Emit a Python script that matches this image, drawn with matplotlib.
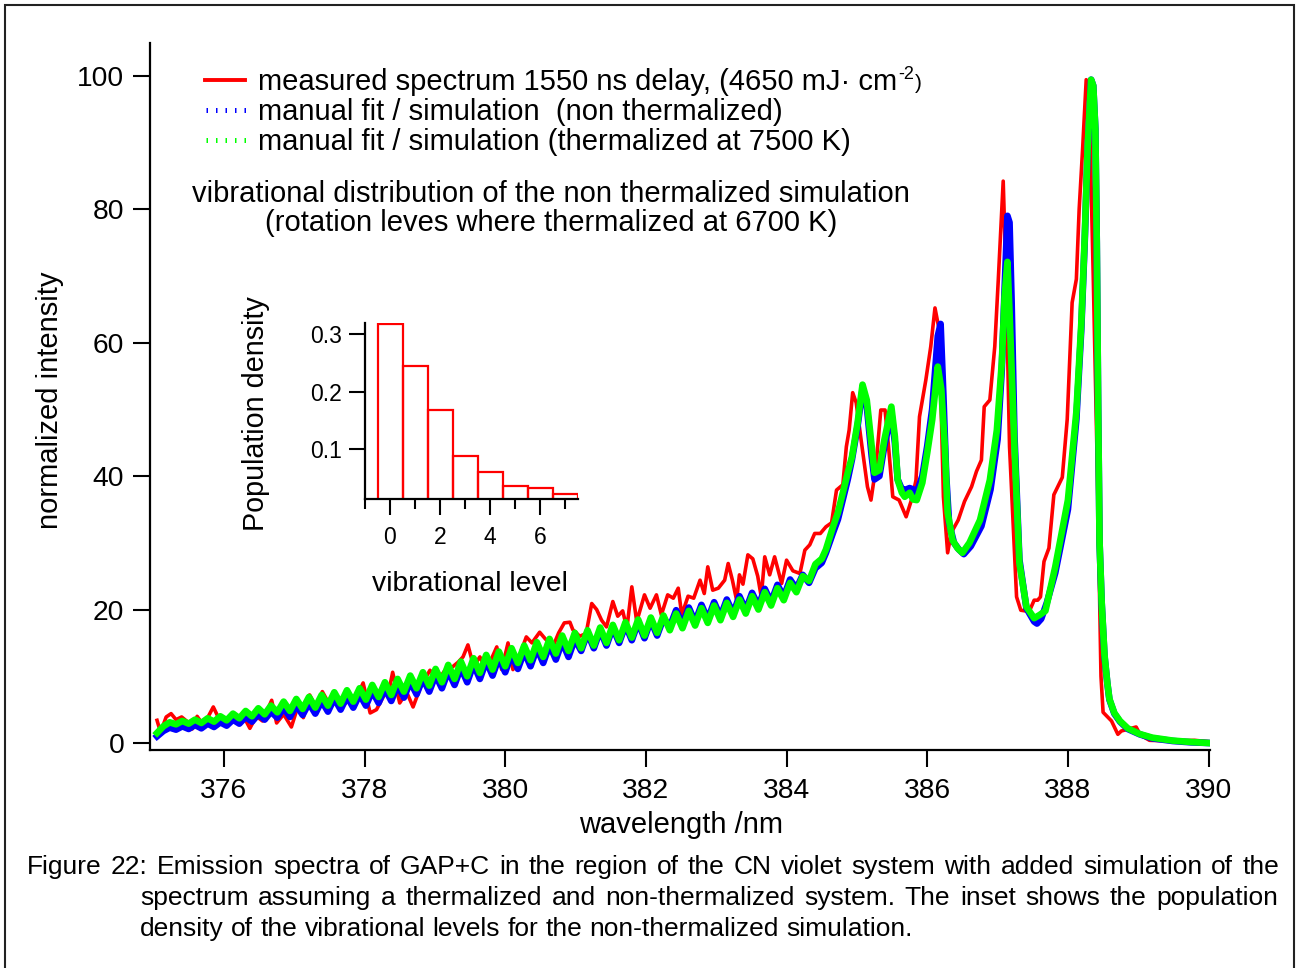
import numpy as np
import matplotlib
matplotlib.use('Agg')
import matplotlib.pyplot as plt
from matplotlib.lines import Line2D
from matplotlib.patches import Rectangle

plt.rcParams['font.family'] = ['Liberation Sans', 'DejaVu Sans']

# ---------------- data ----------------
# simulated spectra, low-wavelength part sampled on a regular grid
low_x = np.linspace(375.05, 384.50, 106)

green_low = [1.5, 2.5, 3.1, 2.8, 3.3, 2.9, 3.5, 3.0, 3.7, 3.2,
             4.0, 3.4, 4.4, 3.7, 4.8, 4.0, 5.2, 4.3, 5.6, 4.6,
             6.2, 4.8, 6.6, 5.1, 6.9, 5.3, 7.2, 5.6, 7.6, 5.9,
             7.9, 6.2, 8.2, 6.5, 8.7, 6.9, 9.1, 7.2, 9.6, 7.7,
             10.1, 8.2, 10.6, 8.6, 11.1, 9.1, 11.7, 9.6, 12.2, 10.0,
             12.7, 10.5, 13.2, 11.0, 13.7, 11.5, 14.2, 12.0, 14.6, 12.4,
             15.1, 12.9, 15.6, 13.4, 16.1, 13.8, 16.5, 14.2, 16.9, 14.6,
             17.3, 15.0, 17.7, 15.4, 18.1, 15.8, 18.5, 16.1, 18.8, 16.5,
             19.1, 16.9, 19.4, 17.2, 19.8, 17.6, 20.2, 18.0, 20.6, 18.4,
             21.0, 18.9, 21.5, 19.4, 22.0, 20.0, 22.6, 20.6, 23.2, 21.4,
             24.0, 22.6, 25.0, 24.3, 26.8, 27.6]

blue_low = [1.0, 1.8, 2.3, 2.0, 2.5, 2.1, 2.7, 2.2, 2.9, 2.4,
            3.1, 2.6, 3.5, 2.9, 3.9, 3.2, 4.3, 3.5, 4.7, 3.8,
            5.3, 3.9, 5.7, 4.2, 6.0, 4.4, 6.3, 4.7, 6.7, 5.0,
            7.0, 5.3, 7.3, 5.6, 7.8, 6.0, 8.2, 6.3, 8.7, 6.8,
            9.2, 7.3, 9.7, 7.7, 10.2, 8.2, 10.8, 8.7, 11.3, 9.1,
            11.8, 9.6, 12.3, 10.1, 12.8, 10.6, 13.3, 11.1, 13.7, 11.5,
            14.2, 12.0, 14.7, 12.5, 15.2, 12.9, 15.6, 13.8, 16.5, 14.2,
            16.9, 14.6, 17.3, 15.0, 17.7, 15.4, 18.1, 15.7, 18.4, 16.1,
            18.7, 17.4, 19.9, 17.7, 20.3, 18.1, 20.7, 18.5, 21.1, 18.9,
            21.5, 19.4, 22.0, 19.9, 22.5, 20.5, 23.1, 21.1, 23.7, 21.9,
            24.5, 23.1, 25.2, 24.0, 26.2, 27.0]

# simulated spectra, band-head region
green_peak_x = [384.56, 384.66, 384.73, 384.80, 384.87, 384.93, 385.01, 385.08, 385.14, 385.21,
                385.25, 385.32, 385.39, 385.49, 385.54, 385.58, 385.64, 385.68, 385.75, 385.80,
                385.85, 385.93, 386.00, 386.07, 386.15, 386.20, 386.25, 386.29, 386.36, 386.43,
                386.50, 386.60, 386.75, 386.89, 386.99, 387.06, 387.10, 387.14, 387.17, 387.24,
                387.31, 387.41, 387.52, 387.60, 387.68, 387.82, 388.00, 388.12, 388.19, 388.24,
                388.28, 388.33, 388.36, 388.39, 388.41, 388.43, 388.45, 388.48, 388.52, 388.56,
                388.59, 388.66, 388.74, 388.85, 389.02, 389.20, 389.49, 389.75, 390.00]
green_peak_y = [29.0, 32.4, 34.5, 37.5, 40.5, 42.9, 48.0, 53.7, 51.4, 44.4,
                40.5, 40.9, 45.4, 50.4, 45.9, 39.4, 37.5, 36.9, 37.5, 36.5,
                36.4, 39.0, 43.5, 48.4, 56.4, 53.0, 44.4, 34.5, 30.4, 29.2,
                28.5, 30.0, 33.4, 39.4, 46.9, 57.0, 66.9, 72.1, 64.5, 44.4,
                27.0, 20.4, 18.7, 19.2, 19.8, 26.4, 36.4, 49.6, 62.8, 76.0,
                89.2, 99.4, 98.5, 92.0, 75.0, 50.0, 30.0, 21.0, 13.2, 9.0,
                6.6, 4.5, 3.3, 2.2, 1.35, 0.8, 0.36, 0.15, 0.0]

blue_peak_x = [384.56, 384.66, 384.73, 384.80, 384.87, 384.93, 385.01, 385.08, 385.14, 385.21,
               385.25, 385.32, 385.39, 385.49, 385.54, 385.58, 385.64, 385.68, 385.75, 385.80,
               385.85, 385.93, 386.00, 386.07, 386.15, 386.19, 386.23, 386.27, 386.31, 386.38,
               386.45, 386.52, 386.62, 386.77, 386.90, 387.00, 387.06, 387.10, 387.14, 387.17,
               387.20, 387.24, 387.31, 387.41, 387.52, 387.56, 387.62, 387.70, 387.82, 388.00,
               388.12, 388.19, 388.24, 388.28, 388.33, 388.36, 388.39, 388.41, 388.43, 388.45,
               388.48, 388.52, 388.56, 388.59, 388.66, 388.74, 388.85, 389.02, 389.20, 389.49,
               389.75, 390.00]
blue_peak_y = [28.5, 31.5, 33.5, 36.5, 39.5, 42.5, 47.5, 53.0, 50.5, 43.0,
               39.5, 40.0, 44.5, 49.5, 45.0, 39.5, 38.0, 37.9, 38.2, 38.0,
               37.5, 40.0, 44.5, 50.0, 61.0, 62.8, 52.0, 40.0, 33.0, 30.0,
               29.0, 28.3, 29.5, 32.5, 38.0, 45.5, 56.0, 68.0, 79.0, 78.0,
               66.0, 46.0, 27.5, 20.2, 18.2, 17.9, 18.6, 21.0, 25.5, 35.0,
               48.5, 62.0, 75.5, 88.8, 99.4, 98.5, 92.0, 75.0, 50.0, 30.0,
               21.0, 13.0, 9.0, 6.5, 4.4, 3.2, 2.1, 1.3, 0.7, 0.3,
               0.1, 0.0]

# measured spectrum
red_x = [375.05, 375.10, 375.18, 375.25, 375.32, 375.40, 375.48, 375.55, 375.62, 375.70,
         375.78, 375.85, 375.95, 376.03, 376.12, 376.20, 376.28, 376.37, 376.46, 376.55,
         376.68, 376.75, 376.85, 376.96, 377.05, 377.13, 377.22, 377.31, 377.40, 377.50,
         377.60, 377.70, 377.80, 377.89, 377.98, 378.08, 378.17, 378.27, 378.35, 378.40,
         378.50, 378.60, 378.69, 378.80, 378.93, 379.05, 379.15, 379.25, 379.33, 379.40,
         379.47, 379.55, 379.64, 379.72, 379.80, 379.88, 379.95, 380.04, 380.11, 380.20,
         380.30, 380.38, 380.49, 380.57, 380.68, 380.76, 380.84, 380.92, 380.96, 381.06,
         381.15, 381.23, 381.30, 381.37, 381.44, 381.53, 381.60, 381.67, 381.73, 381.80,
         381.87, 381.98, 382.06, 382.15, 382.22, 382.31, 382.39, 382.46, 382.51, 382.60,
         382.68, 382.77, 382.83, 382.88, 382.95, 383.03, 383.12, 383.17, 383.23, 383.29,
         383.33, 383.38, 383.45, 383.52, 383.59, 383.64, 383.69, 383.76, 383.83, 383.93,
         384.00, 384.09, 384.19, 384.26, 384.33, 384.40, 384.48, 384.56, 384.64, 384.71,
         384.80, 384.85, 384.89, 384.94, 384.99, 385.06, 385.15, 385.20, 385.27, 385.34,
         385.40, 385.45, 385.51, 385.60, 385.70, 385.79, 385.84, 385.89, 385.98, 386.05,
         386.11, 386.17, 386.20, 386.23, 386.29, 386.34, 386.44, 386.53, 386.63, 386.70,
         386.77, 386.81, 386.89, 386.96, 387.01, 387.08, 387.12, 387.17, 387.27, 387.33,
         387.45, 387.52, 387.57, 387.61, 387.66, 387.73, 387.80, 387.92, 387.99, 388.06,
         388.12, 388.16, 388.21, 388.26, 388.30, 388.36, 388.42, 388.47, 388.50, 388.62,
         388.71, 388.76, 388.83, 388.97, 389.03, 389.16, 389.50, 389.80, 390.00]
red_y = [3.4, 1.6, 3.9, 4.4, 3.5, 3.9, 3.2, 2.1, 4.0, 2.8,
         4.0, 5.4, 3.2, 3.6, 3.4, 3.2, 4.0, 2.2, 4.0, 3.3,
         6.4, 3.0, 4.3, 2.4, 5.4, 3.8, 7.2, 5.4, 7.7, 5.8,
         6.5, 5.6, 6.8, 6.9, 9.0, 4.5, 5.0, 7.0, 8.0, 10.6,
         6.0, 7.6, 5.4, 8.5, 10.9, 9.5, 11.0, 11.4, 12.1, 12.9,
         14.7, 11.5, 12.9, 11.2, 12.5, 14.4, 11.0, 15.0, 11.0, 13.0,
         15.9, 15.0, 16.6, 15.6, 14.5, 16.5, 18.0, 18.1, 17.0, 16.0,
         16.4, 20.9, 20.0, 18.4, 17.4, 21.2, 19.0, 19.8, 17.2, 23.4,
         18.2, 22.2, 20.2, 22.2, 19.2, 22.2, 21.7, 23.2, 19.2, 22.0,
         21.7, 24.4, 22.4, 26.4, 22.9, 23.2, 24.4, 26.9, 24.4, 21.4,
         25.2, 23.8, 28.2, 27.6, 25.0, 21.9, 27.9, 25.2, 27.9, 23.9,
         27.4, 25.8, 25.4, 28.9, 29.7, 31.4, 31.4, 32.4, 33.0, 37.9,
         38.7, 44.4, 46.9, 52.5, 51.0, 45.4, 38.4, 36.4, 41.4, 49.9,
         49.9, 44.4, 36.9, 36.4, 33.9, 36.9, 39.4, 48.9, 54.4, 59.4,
         65.2, 61.9, 49.4, 36.9, 28.5, 31.5, 33.4, 36.2, 38.4, 40.7,
         42.4, 50.4, 51.4, 59.4, 69.4, 84.2, 70.0, 44.4, 21.9, 19.9,
         19.7, 21.4, 21.4, 21.9, 27.2, 29.2, 37.2, 39.8, 48.5, 66.0,
         69.5, 80.0, 89.2, 99.4, 97.0, 70.0, 40.0, 10.0, 4.6, 3.3,
         1.3, 1.8, 2.0, 2.4, 1.2, 0.4, 0.3, 0.4, 0.2]

# inset: vibrational population
vib_levels = [0, 1, 2, 3, 4, 5, 6, 7]
vib_population = [0.318, 0.244, 0.169, 0.089, 0.061, 0.037, 0.033, 0.023]

x_ticks = [376, 378, 380, 382, 384, 386, 388, 390]
y_ticks = [0, 20, 40, 60, 80, 100]

legend_labels = ['measured spectrum 1550 ns delay, (4650 mJ\u00b7 cm',
                 'manual fit / simulation  (non thermalized)',
                 'manual fit / simulation (thermalized at 7500 K)']
note_lines = ['vibrational distribution of the non thermalized simulation',
              '(rotation leves where thermalized at 6700 K)']
caption_lines = ['Figure 22: Emission spectra of GAP+C in the region of the CN violet system with added simulation of the',
                 'spectrum assuming a thermalized and non-thermalized system. The inset shows the population',
                 'density of the vibrational levels for the non-thermalized simulation.']

RED, BLUE, GREEN = '#ff0000', '#0000ff', '#00ff00'

# ---------------- figure ----------------
W, H = 1297, 968
fig = plt.figure(figsize=(W / 100, H / 100), dpi=100)
renderer = fig.canvas.get_renderer()


def fx(px):
    return px / W


def fy(py):
    return 1 - py / H


ax = fig.add_axes([fx(150), fy(750), fx(1210) - fx(150), fy(43) - fy(750)])
ax.plot(red_x, red_y, color=RED, lw=2.6, zorder=2)
ax.plot(list(low_x) + blue_peak_x, blue_low + blue_peak_y, color=BLUE, lw=4.8, zorder=3)
ax.plot(list(low_x) + green_peak_x, green_low + green_peak_y, color=GREEN, lw=4.8, zorder=4)
ax.set_xlim(374.95, 390.02)
ax.set_ylim(-1.05, 104.9)
for s in ['top', 'right']:
    ax.spines[s].set_visible(False)
for s in ['left', 'bottom']:
    ax.spines[s].set_linewidth(1.6)
ax.set_xticks(x_ticks)
ax.set_yticks(y_ticks)
ax.tick_params(axis='both', direction='out', length=12, width=1.5, labelsize=20.3)
ax.tick_params(axis='x', pad=8)
ax.tick_params(axis='y', pad=6.5)

fig.text(fx(50), fy(400), 'normalized intensity', rotation=90, ha='center', va='center', fontsize=21)
fig.text(fx(681), fy(825), 'wavelength /nm', ha='center', va='center', fontsize=21)

# legend drawn by hand
LEG_FS = 21
leg_y = [80, 110, 140]
fig.add_artist(Line2D([fx(205), fx(245)], [fy(leg_y[0])] * 2, transform=fig.transFigure,
                      color=RED, lw=2.8))
for yy, col in zip(leg_y[1:], [BLUE, GREEN]):
    fig.add_artist(Line2D([fx(206), fx(246)], [fy(yy)] * 2, transform=fig.transFigure,
                          color=col, lw=3.6, linestyle=(0, (0.3, 1.6)), dash_capstyle='butt'))
leg_texts = []
for yy, lab in zip(leg_y, legend_labels):
    leg_texts.append(fig.text(fx(258), fy(yy + 10), lab, ha='left', va='baseline', fontsize=LEG_FS))
# superscript "-2" and closing bracket after "cm"
bb = leg_texts[0].get_window_extent(renderer)
sup = fig.text(fx(bb.x1 + 1), fy(leg_y[0] - 1), '-2', ha='left', va='baseline', fontsize=13)
bb2 = sup.get_window_extent(renderer)
fig.text(fx(bb2.x1 + 1), fy(leg_y[0] + 9), ')', ha='left', va='baseline', fontsize=15)

for yb, line in zip([202, 231], note_lines):
    fig.text(fx(551), fy(yb), line, ha='center', va='baseline', fontsize=21)

# inset
iax = fig.add_axes([fx(365), fy(499), fx(577.5) - fx(365), fy(323) - fy(499)])
iax.patch.set_alpha(0)
iax.bar(vib_levels, vib_population, width=1.0, fill=False, edgecolor=RED, linewidth=1.6)
iax.set_xlim(-1.0, 7.5)
iax.set_ylim(0.0138, 0.319)
for s in ['top', 'right']:
    iax.spines[s].set_visible(False)
for s in ['left', 'bottom']:
    iax.spines[s].set_linewidth(1.6)
iax.set_xticks([0, 2, 4, 6])
iax.set_xticks([-1, 1, 3, 5, 7], minor=True)
iax.set_yticks([0.1, 0.2, 0.3])
iax.set_yticklabels(['0.1', '0.2', '0.3'])
iax.tick_params(axis='both', which='major', direction='out', length=11.5, width=1.5, labelsize=16.5)
iax.tick_params(axis='x', which='minor', direction='out', length=7, width=1.5)
iax.tick_params(axis='x', which='major', pad=8)
iax.tick_params(axis='y', which='major', pad=5)
fig.text(fx(470), fy(584), 'vibrational level', ha='center', va='center', fontsize=20.4)
fig.text(fx(256), fy(414), 'Population density', rotation=90, ha='center', va='center', fontsize=20.7)

# caption with justified lines
CAP_FS = 19


def place_line(line, x0, x1, yb, justify):
    words = line.split(' ')
    texts = [fig.text(0, fy(yb), w, fontsize=CAP_FS, ha='left', va='baseline') for w in words]
    widths = [t.get_window_extent(renderer).width for t in texts]
    if justify:
        gap = (x1 - x0 - sum(widths)) / (len(words) - 1)
    else:
        t1 = fig.text(0, 0, 'a a', fontsize=CAP_FS)
        t2 = fig.text(0, 0, 'aa', fontsize=CAP_FS)
        gap = t1.get_window_extent(renderer).width - t2.get_window_extent(renderer).width
        t1.remove()
        t2.remove()
    x = x0
    for t, w in zip(texts, widths):
        t.set_x(fx(x))
        x += w + gap


place_line(caption_lines[0], 27, 1279, 874, True)
place_line(caption_lines[1], 140, 1278, 905, True)
place_line(caption_lines[2], 140, 1278, 936, False)

# page frame
fig.add_artist(Rectangle((fx(5), fy(1010)), fx(1294) - fx(5), fy(5) - fy(1010),
                         transform=fig.transFigure, fill=False, edgecolor='#222222',
                         linewidth=1.5, clip_on=False))

fig.savefig('out.png', dpi=100)
